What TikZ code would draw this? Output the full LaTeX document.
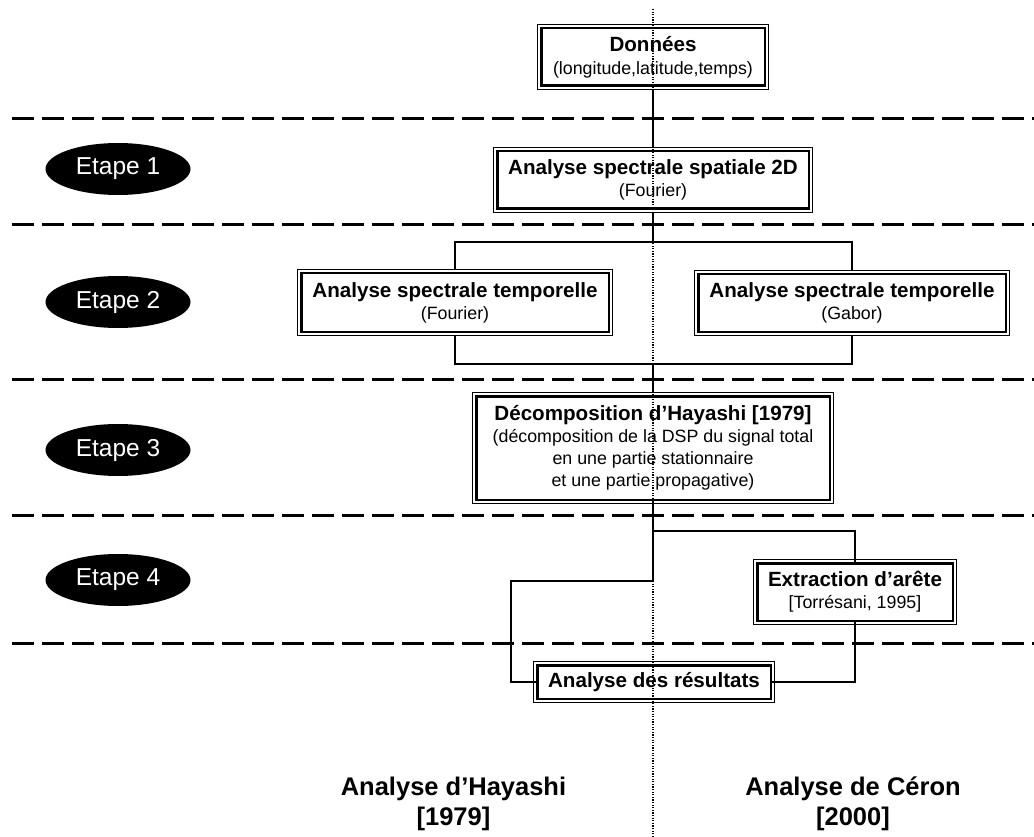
\documentclass[tikz,border=0pt]{standalone}
\usepackage{fontspec}
\setmainfont{Liberation Sans}
\usetikzlibrary{shapes.geometric}
\newcommand\bxtitle[1]{{\fontsize{20.6}{24}\selectfont\bfseries #1}}
\newcommand\bxsub[1]{{\fontsize{17.8}{22}\selectfont #1}}
\tikzset{
  box/.style={draw=black, line width=2.6pt, fill=white, inner sep=0pt, align=center,
    preaction={draw=black, line width=8.4pt},
    preaction={draw=white, line width=6.6pt},
    font=\fontsize{17.8}{22}\selectfont},
  etape/.style={ellipse, fill=black, text=white, minimum width=145pt, minimum height=52pt,
    inner sep=0pt, font=\fontsize{24.5}{28}\selectfont},
  sep/.style={line width=3pt, dash pattern=on 22pt off 8pt},
  conn/.style={line width=2pt},
  axis/.style={line width=1.3pt, dash pattern=on 1.2pt off 1.4pt},
  bottom/.style={align=center, font=\fontsize{25.5}{29.5}\selectfont\bfseries}
}
\begin{document}
\begin{tikzpicture}[x=1pt,y=-1pt]
\useasboundingbox (0,0) rectangle (1034,837);
% separators
\foreach \yy [count=\i] in {119,225,379,515,643}{
  \coordinate (sl\i) at (12,\yy);
  \coordinate (sr\i) at (1034,\yy);
  \draw[sep] (sl\i) -- (sr\i);
}
% stage ellipses
\node[etape] (e1) at (118,169) {Etape 1};
\node[etape] (e2) at (118,302) {Etape 2};
\node[etape] (e3) at (118,450) {Etape 3};
\node[etape] (e4) at (118,580) {Etape 4};
% coordinates for connectors
\coordinate (b1) at (653,242);
\coordinate (b2) at (653,364);
\coordinate (c1) at (653,531);
\coordinate (c2) at (653,581);
\coordinate (hl) at (511,581);
% connectors (drawn under boxes)
\draw[conn] (653,57) -- (653,180);
\draw[conn] (653,180) -- (b1);
\draw[conn] (455,302) -- (455,242) -- (852,242) -- (852,303);
\draw[conn] (455,302) -- (455,364) -- (852,364) -- (852,303);
\draw[conn] (b2) -- (653,448);
% boxes
\node[box, minimum width=223.6pt, minimum height=57.6pt] (d) at (653,57)
  {\bxtitle{Données}\\[1pt](longitude,latitude,temps)};
\node[box, minimum width=311.6pt, minimum height=57.6pt] (s) at (653,180)
  {\bxtitle{Analyse spectrale spatiale 2D}\\(Fourier)};
\node[box, minimum width=307.6pt, minimum height=58.6pt] (f) at (455,302.5)
  {\bxtitle{Analyse spectrale temporelle}\\(Fourier)};
\node[box, minimum width=307.6pt, minimum height=57.6pt] (g) at (852,303)
  {\bxtitle{Analyse spectrale temporelle}\\(Gabor)};
\node[box, minimum width=353.6pt, minimum height=103.6pt] (h) at (653,448)
  {\bxtitle{Décomposition d’Hayashi [1979]}\\(décomposition de la DSP du signal total\\en une partie stationnaire\\et une partie propagative)};
\node[box, minimum width=195.6pt, minimum height=57.6pt] (x) at (855,592)
  {\bxtitle{Extraction d’arête}\\{}[Torrésani, 1995]};
\node[box, minimum width=233.6pt, minimum height=33.6pt] (r) at (654,682)
  {\bxtitle{Analyse des résultats}};
% stage 3-4 connectors
\draw[conn] (h.south) -- (c1) -- (c2) -- (hl) |- (r.west);
\draw[conn] (c1) -| (x.north);
\draw[conn] (x.south) |- (r.east);
% bottom labels
\node[bottom] (lh) at (453.5,804) {Analyse d’Hayashi\\{}[1979]};
\node[bottom] (lc) at (853,804) {Analyse de Céron\\{}[2000]};
% dotted axis
\coordinate (vt) at (653,9);
\coordinate (vb) at (653,837);
\draw[axis] (vt) -- (vb);
\end{tikzpicture}
\end{document}
